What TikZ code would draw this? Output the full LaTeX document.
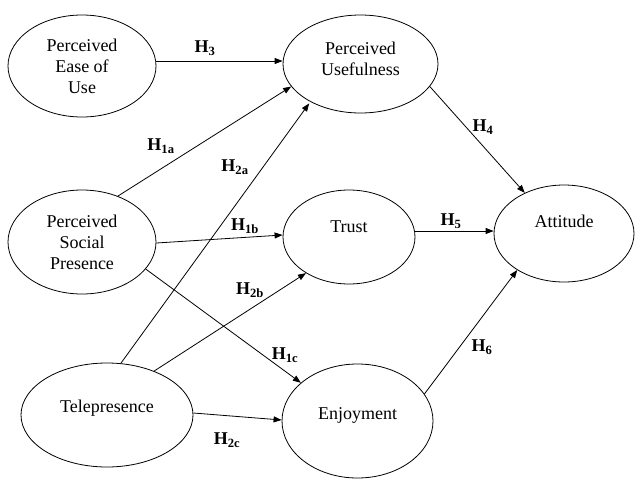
\documentclass[tikz,border=0pt]{standalone}
\usepackage{fontspec}
\setmainfont{Liberation Serif}
\usetikzlibrary{arrows.meta,shapes.geometric}
\begin{document}
\begin{tikzpicture}[x=1pt,y=-1pt,
  construct/.style={draw, ellipse, line width=0.8pt, align=center, font=\fontsize{18}{21}\selectfont, inner sep=0pt},
  link/.style={-{Triangle[length=8pt,width=6pt]}, line width=0.8pt},
  hlab/.style={font=\fontsize{18}{20}\selectfont\bfseries, inner sep=1pt}]
\useasboundingbox (0,0) rectangle (635,480);
\node[construct, minimum width=148pt, minimum height=102pt] (peou) at (82,66) {Perceived\\Ease of\\Use};
\node[construct, minimum width=155pt, minimum height=98pt, text depth=11pt] (pu) at (360.5,64) {Perceived\\Usefulness};
\node[construct, minimum width=148pt, minimum height=104pt] (psp) at (82,242) {Perceived\\Social\\Presence};
\node[construct, minimum width=172pt, minimum height=104pt, text height=12pt, text depth=17pt] (tele) at (107,415) {Telepresence};
\node[construct, minimum width=132pt, minimum height=94pt, text height=12pt, text depth=21pt] (trust) at (349,237) {Trust};
\node[construct, minimum width=140pt, minimum height=97pt, text height=12pt, text depth=25pt] (att) at (564,233.5) {Attitude};
\node[construct, minimum width=151pt, minimum height=114pt, text height=12pt, text depth=15pt] (enj) at (357.5,421) {Enjoyment};

\draw[link] (peou.east |- 0,61) -- (pu.west |- 0,61);
\draw[link] (psp.52) -- (pu.-162);
\draw[link, shorten >=2pt] (tele.75) -- (pu.-143);
\draw[link] (psp.east |- 0,243) -- (trust.west |- 0,235);
\draw[link] (trust.east |- 0,231) -- (att.west |- 0,231);
\draw[link] (pu.-18) -- (att.134);
\draw[link] (tele.43) -- (trust.-140);
\draw[link] (psp.-23) -- (enj.146);
\draw[link] (tele.east |- 0,413) -- (enj.west |- 0,420);
\draw[link] (enj.22) -- (att.-142);

\node[hlab] (l3) at (205,48) {H\textsubscript{3}};
\node[hlab] (l1a) at (161,146) {H\textsubscript{1a}};
\node[hlab] (l2a) at (235,167) {H\textsubscript{2a}};
\node[hlab] (l1b) at (245,226) {H\textsubscript{1b}};
\node[hlab] (l5) at (451,221) {H\textsubscript{5}};
\node[hlab] (l4) at (483,127) {H\textsubscript{4}};
\node[hlab] (l2b) at (250,290) {H\textsubscript{2b}};
\node[hlab] (l1c) at (285,355) {H\textsubscript{1c}};
\node[hlab] (l2c) at (227,440) {H\textsubscript{2c}};
\node[hlab] (l6) at (482,347) {H\textsubscript{6}};
\end{tikzpicture}
\end{document}
